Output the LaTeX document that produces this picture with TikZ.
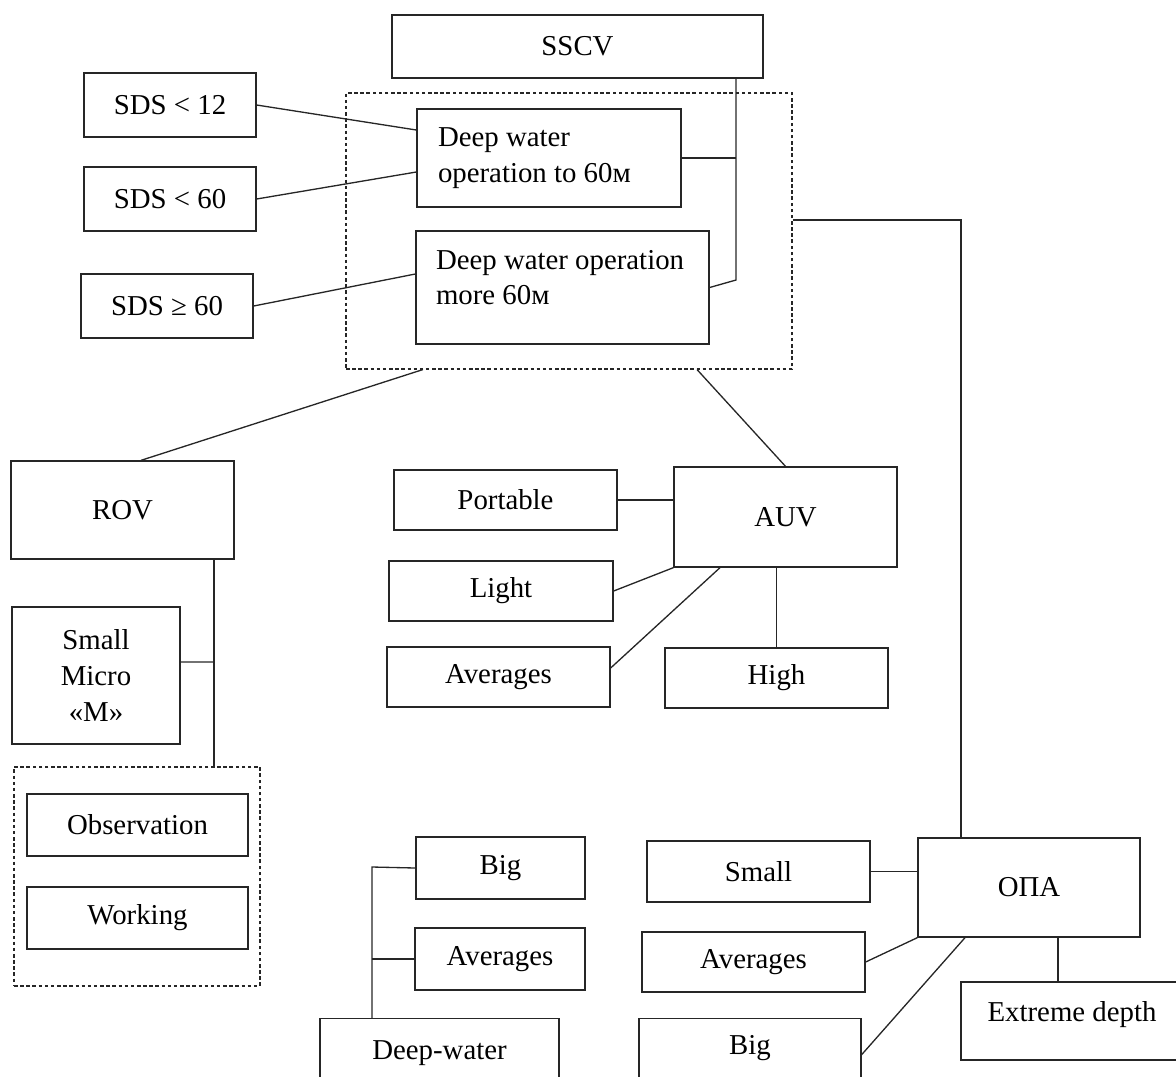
\documentclass[tikz,border=0pt]{standalone}
\usepackage{fontspec}
\setmainfont{Liberation Serif}
\begin{document}
\begin{tikzpicture}[
  draw=black!85, line width=0.75pt,
  every node/.style={draw=black!85, line width=0.75pt, inner sep=0pt, font=\fontsize{16.4}{20.4}\selectfont, text=black},
  grp/.style={dash pattern=on 2pt off 1.5pt, line width=0.6pt},
  wbox/.style={minimum width=4.46cm, minimum height=1.2cm},
  sds/.style={minimum width=3.44cm, minimum height=1.28cm}
]
  \clip (0,0) rectangle (23.52,-21.52);
  \node[minimum width=7.42cm, minimum height=1.26cm] (sscv) at (11.55,-0.93) {SSCV};
  \node[grp, minimum width=8.92cm, minimum height=5.52cm] (grp1) at (11.38,-4.62) {};
  \node[sds] (sds12) at (3.40,-2.10) {SDS < 12};
  \node[sds] (sds60) at (3.40,-3.98) {SDS < 60};
  \node[sds] (sdsge) at (3.34,-6.12) {SDS ≥ 60};
  \node[inner xsep=0.42cm, minimum height=1.96cm] (dw60) at (10.98,-3.16) {\parbox{4.44cm}{\raggedright Deep water\\operation to 60м}};
  \node[inner xsep=0.40cm, inner ysep=0.38cm] (dwm60) at (11.25,-5.75) {\parbox[c][1.50cm][t]{5.06cm}{\raggedright Deep water operation\\more 60м}};
  \node[minimum width=4.46cm, minimum height=1.96cm] (rov) at (2.45,-10.20) {ROV};
  \node[minimum width=4.46cm, minimum height=2.0cm] (auv) at (15.71,-10.34) {AUV};
  \node[wbox] (port) at (10.11,-10.00) {Portable};
  \node[wbox, minimum width=4.48cm] (light) at (10.02,-11.82) {Light};
  \node[wbox] (avg1) at (9.97,-13.54) {Averages};
  \node[wbox] (high) at (15.53,-13.56) {High};
  \node[align=center, minimum width=3.36cm, minimum height=2.74cm] (smm) at (1.92,-13.51) {Small\\Micro\\«M»};
  \node[grp, minimum width=4.92cm, minimum height=4.38cm] (grp2) at (2.74,-17.53) {};
  \node[minimum width=4.42cm, minimum height=1.24cm] (obs) at (2.75,-16.50) {Observation};
  \node[minimum width=4.42cm, minimum height=1.24cm] (work) at (2.75,-18.36) {Working};
  \node[minimum width=3.38cm, minimum height=1.24cm] (big1) at (10.01,-17.36) {Big};
  \node[minimum width=3.40cm, minimum height=1.24cm] (avg2) at (10.00,-19.18) {Averages};
  \node[anchor=north, inner xsep=0pt, inner ysep=0.44cm] (deep) at (8.79,-20.36) {\parbox[c][0.72cm][t]{4.78cm}{\centering Deep-water}};
  \node[minimum width=4.44cm, minimum height=1.98cm] (opa) at (20.58,-17.75) {ОПА};
  \node[wbox, minimum height=1.22cm] (small2) at (15.17,-17.43) {Small};
  \node[wbox] (avg3) at (15.07,-19.24) {Averages};
  \node[anchor=north, inner xsep=0pt, inner ysep=0.34cm] (big2) at (15.00,-20.36) {\parbox[c][0.92cm][t]{4.44cm}{\centering Big}};
  \node[inner xsep=0pt, inner ysep=0.38cm] (ext) at (21.44,-20.42) {\parbox[c][0.80cm][t]{4.44cm}{\centering Extreme depth}};
  \coordinate (jt) at (14.72,-5.60);
  \coordinate (jr) at (19.22,-4.40);
  \coordinate (jl) at (4.28,-13.24);
  \coordinate (jd) at (7.44,-17.34);
  \draw (sscv.south -| jt) -- (jt) -- (dwm60.east);
  \draw (dw60.east) -- (dw60.east -| jt);
  \draw (sds12.east) -- ([yshift=0.56cm]dw60.west);
  \draw (sds60.east) -- ([yshift=-0.28cm]dw60.west);
  \draw (sdsge.east) -- ([yshift=0.27cm]dwm60.west);
  \draw ([yshift=0.22cm]grp1.east) -- (jr) -- (jr |- opa.north);
  \draw ([xshift=-2.92cm]grp1.south) -- ([xshift=0.37cm]rov.north);
  \draw ([xshift=2.56cm]grp1.south) -- (auv.north);
  \draw (port.east) -- (port.east -| auv.west);
  \draw (light.east) -- (auv.south west);
  \draw ([yshift=0.18cm]avg1.east) -- ([xshift=-1.31cm]auv.south);
  \draw (high.north) -- (high.north |- auv.south);
  \draw (rov.south -| jl) -- (jl |- grp2.north);
  \draw ([yshift=0.27cm]smm.east) -- (jl);
  \draw (deep.north -| jd) -- (jd) -- (big1.west);
  \draw (avg2.west) -- (avg2.west -| jd);
  \draw (small2.east) -- (small2.east -| opa.west);
  \draw (avg3.east) -- (opa.south west);
  \draw ([yshift=0.08cm]big2.east) -- ([xshift=-1.28cm]opa.south);
  \draw ([xshift=-0.28cm]ext.north) -- ([xshift=-0.28cm]ext.north |- opa.south);
\end{tikzpicture}
\end{document}
